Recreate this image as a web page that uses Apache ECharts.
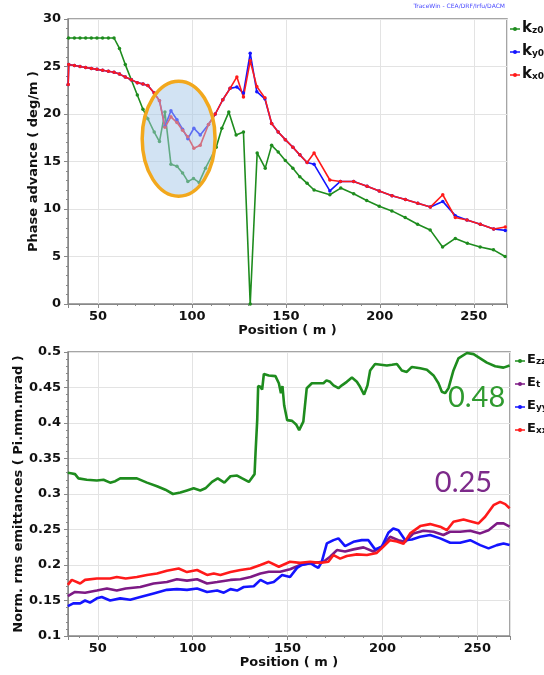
<!DOCTYPE html>
<html>
<head>
<meta charset="utf-8">
<script src="https://cdn.jsdelivr.net/npm/echarts@6/dist/echarts.min.js"></script>
<style>
  html, body { margin: 0; padding: 0; background: #fff; }
  #main { width: 544px; height: 675px; }
</style>
</head>
<body>
<div id="main"></div>
<script>
// ---- phase advance (top) ----
var kzPos = [34.3, 37.4, 40.4, 43.4, 46.4, 49.4, 52.4, 55.5, 58.5, 61.4, 64.5, 67.7, 70.9, 73.9, 76.5, 79.9, 82.7,
  85.6, 88.8, 92.0, 95.0, 97.8, 100.8, 103.8, 107.2, 112.9, 115.9, 119.6, 123.5, 127.4, 131.0, 134.7, 139.0,
  142.4, 145.9, 149.7, 153.7, 157.4, 161.3, 165.0, 173.4, 179.2, 186.1, 193.0, 199.7, 206.4, 213.5, 220.1,
  226.8, 233.4, 240.2, 246.6, 253.4, 260.5, 266.7];
var kzVal = [28.0, 28.0, 28.0, 28.0, 28.0, 28.0, 28.0, 28.0, 28.0, 26.9, 25.2, 23.6, 22.0, 20.5, 19.5, 18.1, 17.1,
  20.2, 14.7, 14.5, 13.8, 12.9, 13.2, 12.8, 14.3, 16.5, 18.5, 20.2, 17.8, 18.1, 0.0, 15.9, 14.3,
  16.7, 16.0, 15.1, 14.3, 13.4, 12.7, 12.0, 11.5, 12.2, 11.6, 10.9, 10.3, 9.8, 9.1, 8.4,
  7.8, 6.0, 6.9, 6.4, 6.0, 5.7, 5.0];

var kxyPos = [34.1, 34.4, 37.4, 40.4, 43.4, 46.4, 49.4, 52.4, 55.5, 58.5, 61.4, 64.5, 67.7, 70.9, 73.9, 76.5, 79.9,
  82.7, 85.6, 88.8, 92.0, 95.0, 97.8, 101.0, 104.4, 108.8, 112.4, 116.4, 120.3, 123.9, 127.4, 131.0, 134.5,
  138.8, 142.4, 145.9, 149.7, 153.7, 157.4, 161.3, 165.0, 173.4, 179.0, 186.1, 193.2, 199.7, 206.5, 213.6,
  220.2, 226.9, 233.5, 240.2, 246.4, 253.5, 260.6, 266.8];
var kyVal = [23.1, 25.2, 25.1, 25.0, 24.9, 24.8, 24.7, 24.6, 24.5, 24.4, 24.2, 23.9, 23.6, 23.3, 23.15, 23.0, 22.2,
  21.4, 18.7, 20.35, 19.4, 18.4, 17.4, 18.5, 17.8, 18.9, 20.0, 21.5, 22.7, 22.85, 22.2, 26.4, 22.35,
  21.6, 19.0, 18.1, 17.3, 16.5, 15.7, 14.9, 14.7, 11.9, 12.9, 12.9, 12.4, 11.9, 11.4, 11.0,
  10.6, 10.2, 10.8, 9.3, 8.85, 8.4, 7.9, 7.75];
var kxVal = [23.1, 25.2, 25.1, 25.0, 24.9, 24.8, 24.7, 24.6, 24.5, 24.4, 24.2, 23.9, 23.6, 23.3, 23.15, 23.0, 22.2,
  21.4, 18.6, 19.7, 19.1, 18.3, 17.6, 16.4, 16.7, 18.9, 20.0, 21.5, 22.7, 23.9, 21.8, 25.6, 22.9,
  21.7, 19.0, 18.1, 17.3, 16.5, 15.7, 14.9, 15.9, 13.05, 12.9, 12.9, 12.4, 11.9, 11.4, 11.0,
  10.6, 10.2, 11.5, 9.1, 8.85, 8.4, 7.9, 8.1];

// ---- emittances (bottom) ----
var ezPos = [34.2, 36.5, 38, 39.8, 44.2, 49.5, 53, 56.5, 59.2, 61.8, 70.6, 75.9, 81.2, 85.6, 89.6, 93.5, 97, 100.5,
  104, 106.7, 110.2, 113.2, 116.7, 119.9, 123.4, 126.1, 129.6, 132.6, 133.1, 134.0, 134.5, 135.7, 136.6, 137.5,
  140.1, 143.6, 145.4, 146.5, 147.3, 148.2, 149.8, 152.4, 154.5, 156.1, 158.3, 160.1, 162.8, 166.3, 168.9, 170.5,
  172.4, 174.2, 176.8, 178.6, 181.2, 183.9, 186.5, 188.2, 190.3, 192.1, 193.5, 196.1, 202.3, 205, 207.6, 210.2,
  212.8, 215.5, 219.9, 223.4, 226.9, 229.5, 231.3, 233, 234.8, 237.4, 240, 244.5, 248, 251.5, 255, 259.4, 263.8, 267];
var ezVal = [0.330, 0.329, 0.328, 0.322, 0.320, 0.319, 0.320, 0.316, 0.318, 0.322, 0.322, 0.316, 0.311, 0.306, 0.300,
  0.302, 0.305, 0.308, 0.305, 0.308, 0.317, 0.322, 0.316, 0.325, 0.326, 0.322, 0.317, 0.328, 0.357, 0.404, 0.452,
  0.451, 0.447, 0.469, 0.467, 0.466, 0.456, 0.442, 0.452, 0.425, 0.404, 0.403, 0.398, 0.390, 0.402, 0.449, 0.456,
  0.456, 0.456, 0.460, 0.458, 0.453, 0.449, 0.453, 0.458, 0.464, 0.458, 0.451, 0.440, 0.453, 0.474, 0.483, 0.481,
  0.482, 0.483, 0.474, 0.472, 0.479, 0.477, 0.475, 0.467, 0.456, 0.444, 0.442, 0.449, 0.474, 0.491, 0.4986, 0.497,
  0.491, 0.485, 0.480, 0.478, 0.481];

var etPos = [34.2, 38, 43.3, 49.5, 54.8, 60, 64.7, 72.4, 79.4, 86.4, 91.7, 97, 102.3, 107.6, 112.9, 119.9, 125.2,
  130.5, 135.7, 140.1, 146.1, 151.3, 156.6, 163.6, 168.9, 172.4, 176, 180.3, 184.7, 190, 195.2, 199.6, 204,
  208.4, 212, 216.3, 221.6, 226.9, 232.1, 235.6, 240.9, 246.2, 251.5, 255.9, 260.3, 263.8, 267];
var etVal = [0.156, 0.162, 0.161, 0.164, 0.167, 0.164, 0.167, 0.169, 0.174, 0.176, 0.180, 0.178, 0.180, 0.174, 0.176,
  0.179, 0.180, 0.183, 0.188, 0.1905, 0.1905, 0.194, 0.200, 0.203, 0.2045, 0.2116, 0.221, 0.219, 0.222, 0.2248,
  0.219, 0.2257, 0.2397, 0.235, 0.2327, 0.2445, 0.2482, 0.2468, 0.2422, 0.2468, 0.2468, 0.2482, 0.2445, 0.249,
  0.2586, 0.2586, 0.254];

var eyPos = [34.2, 37.1, 40.7, 43.3, 45.9, 49.5, 52.1, 56.5, 61.8, 67.1, 72.4, 79.4, 86.4, 91.7, 97, 102.3, 107.6,
  112.9, 116.4, 119.9, 123.4, 126.9, 132.2, 135.7, 139.3, 142.7, 147.1, 151.3, 155, 157.5, 161.9, 164.5, 166.2,
  168, 170.7, 174.2, 176.8, 180.3, 184.7, 189.1, 192.6, 196.1, 199.6, 203.1, 205.7, 208.4, 212, 215.5, 219.9,
  225.1, 230.4, 235.7, 240.9, 246.2, 251.5, 255.9, 260.3, 263.8, 267];
var eyVal = [0.142, 0.146, 0.146, 0.150, 0.147, 0.153, 0.155, 0.150, 0.153, 0.151, 0.155, 0.160, 0.165, 0.166, 0.165,
  0.167, 0.162, 0.164, 0.161, 0.166, 0.164, 0.169, 0.170, 0.179, 0.174, 0.176, 0.186, 0.183, 0.196, 0.200, 0.203,
  0.1985, 0.196, 0.2045, 0.2304, 0.235, 0.2375, 0.2267, 0.2327, 0.235, 0.235, 0.222, 0.2257, 0.2454, 0.2515,
  0.249, 0.235, 0.236, 0.2397, 0.2422, 0.2375, 0.2313, 0.2313, 0.235, 0.228, 0.2234, 0.228, 0.2304, 0.228];

var exPos = [34.2, 36.3, 40.7, 43.3, 49.5, 56.5, 60, 64.7, 70.6, 75.9, 81.2, 86.4, 92.6, 97, 102.3, 107.6, 111.1,
  114.6, 119.9, 125.2, 130.5, 135.7, 140.1, 145.4, 151.3, 156.6, 161.9, 167.1, 171.5, 174.2, 177.7, 181.2, 186.5,
  191.8, 197, 200.5, 204, 207.6, 211.1, 214.6, 219.9, 225.1, 230.4, 233.9, 237.4, 242.7, 247.1, 250.6, 254.1,
  258.5, 262, 264.7, 267];
var exVal = [0.172, 0.179, 0.174, 0.179, 0.181, 0.181, 0.183, 0.181, 0.183, 0.186, 0.188, 0.192, 0.195, 0.190, 0.193,
  0.186, 0.188, 0.186, 0.190, 0.193, 0.195, 0.200, 0.2045, 0.1975, 0.2045, 0.203, 0.2045, 0.203, 0.2045, 0.214,
  0.209, 0.2126, 0.215, 0.214, 0.217, 0.226, 0.235, 0.233, 0.230, 0.2445, 0.2548, 0.2576, 0.254, 0.249, 0.261,
  0.264, 0.261, 0.2586, 0.268, 0.2843, 0.289, 0.2857, 0.280];

// legend labels: main letter + subscript
var topNames = [['k', 'z0'], ['k', 'y0'], ['k', 'x0']];
var botNames = [['E', 'zz'], ['E', 't'], ['E', 'yy'], ['E', 'xx']];

// highlighted region (data units of the top grid)
var ringCenter = [92.9, 17.4];
var ringRadius = [19.4, 6.05];

function pairs(xs, ys) {
  return xs.map(function (x, i) { return [x, ys[i]]; });
}

var font = 'DejaVu Sans';
var green = '#1e8c1e', blue = '#1414ff', red = '#ff1a1a', purple = '#7d1a85';

function xAxisCfg(idx, min, max) {
  return {
    type: 'value', gridIndex: idx, min: min, max: max,
    name: 'Position ( m )', nameLocation: 'middle', nameGap: 20, nameMoveOverlap: false,
    nameTextStyle: { fontFamily: font, fontWeight: 'bold', fontSize: 13, color: '#111' },
    axisLine: { lineStyle: { color: '#888' } },
    axisTick: { length: 4, lineStyle: { color: '#888' } },
    minorTick: { show: true, splitNumber: 5, length: 2, lineStyle: { color: '#888' } },
    axisLabel: { fontFamily: font, fontWeight: 'bold', fontSize: 13, color: '#111', margin: 6,
      showMinLabel: false, showMaxLabel: false },
    splitLine: { show: true, lineStyle: { color: '#e3e3e3' } }
  };
}

function yAxisCfg(idx, min, max, step, name, gap) {
  return {
    type: 'value', gridIndex: idx, min: min, max: max, interval: step,
    name: name, nameLocation: 'middle', nameGap: gap, nameMoveOverlap: false,
    nameTextStyle: { fontFamily: font, fontWeight: 'bold', fontSize: 13, color: '#111' },
    axisLine: { show: true, lineStyle: { color: '#888' } },
    axisTick: { show: true, length: 4, lineStyle: { color: '#888' } },
    minorTick: { show: true, splitNumber: 5, length: 2, lineStyle: { color: '#888' } },
    axisLabel: { fontFamily: font, fontWeight: 'bold', fontSize: 13, color: '#111', margin: 7 },
    splitLine: { show: true, lineStyle: { color: '#e3e3e3' } }
  };
}

function lineSeries(name, xi, xs, ys, color, width, dots) {
  return {
    name: name, type: 'line', xAxisIndex: xi, yAxisIndex: xi, data: pairs(xs, ys),
    symbol: 'circle', symbolSize: 3.5, showSymbol: dots, color: color,
    lineStyle: { width: width }
  };
}

var chart = echarts.init(document.getElementById('main'));

var option = {
  animation: false,
  backgroundColor: '#fff',
  grid: [
    { left: 68, top: 19, right: 37, height: 285, show: true, borderColor: '#888', borderWidth: 1.5 },
    { left: 68, top: 352, right: 34, height: 284, show: true, borderColor: '#888', borderWidth: 1.5 }
  ],
  xAxis: [xAxisCfg(0, 34, 267.7), xAxisCfg(1, 34.3, 267.2)],
  yAxis: [
    yAxisCfg(0, 0, 30, 5, 'Phase advance ( deg/m )', 28),
    yAxisCfg(1, 0.1, 0.5, 0.05, 'Norm. rms emittances ( Pi.mm.mrad )', 43)
  ],
  series: [
    lineSeries('kz0', 0, kzPos, kzVal, green, 1.6, true),
    lineSeries('ky0', 0, kxyPos, kyVal, blue, 1.6, true),
    lineSeries('kx0', 0, kxyPos, kxVal, red, 1.6, true),
    lineSeries('Ezz', 1, ezPos, ezVal, green, 2.6, false),
    lineSeries('Et', 1, etPos, etVal, purple, 2.6, false),
    lineSeries('Eyy', 1, eyPos, eyVal, blue, 2.6, false),
    lineSeries('Exx', 1, exPos, exVal, red, 2.6, false)
  ]
};

chart.setOption(option);

// legend entries drawn as graphics so the subscripts are not truncated
function legendItems(names, colors, x, y0, step, big, small) {
  var out = [];
  names.forEach(function (n, i) {
    var y = y0 + i * step;
    out.push({ type: 'line', z: 110, shape: { x1: x, y1: y, x2: x + 10, y2: y },
      style: { stroke: colors[i], lineWidth: 1.5 } });
    out.push({ type: 'circle', z: 110, shape: { cx: x + 5, cy: y, r: 2 }, style: { fill: colors[i] } });
    out.push({ type: 'text', z: 110, x: x + 12, y: y + big * 0.42,
      style: {
        text: '{b|' + n[0] + '}{s|' + n[1] + '}', verticalAlign: 'bottom',
        rich: {
          b: { font: 'bold ' + big + 'px "DejaVu Sans"', fill: '#111', lineHeight: big },
          s: { font: 'bold ' + small + 'px "DejaVu Sans"', fill: '#111', lineHeight: small, verticalAlign: 'bottom' }
        }
      } });
  });
  return out;
}

var c = chart.convertToPixel({ gridIndex: 0 }, ringCenter);
var e = chart.convertToPixel({ gridIndex: 0 }, [ringCenter[0] + ringRadius[0], ringCenter[1] + ringRadius[1]]);
var lbl48 = chart.convertToPixel({ gridIndex: 1 }, [264.7, 0.436]);
var lbl25 = chart.convertToPixel({ gridIndex: 1 }, [257.8, 0.316]);

var graphics = [
  { type: 'ellipse', z: 100,
    shape: { cx: c[0], cy: c[1], rx: Math.abs(e[0] - c[0]), ry: Math.abs(c[1] - e[1]) },
    style: { fill: 'rgba(165, 200, 232, 0.5)', stroke: '#f2a81d', lineWidth: 3.5 } },
  { type: 'text', z: 100, x: 505, y: 3,
    style: { text: 'TraceWin - CEA/DRF/Irfu/DACM', fill: '#4a4aff', font: '6px "DejaVu Sans"', align: 'right' } },
  { type: 'text', z: 100, x: lbl48[0], y: lbl48[1],
    style: { text: '0.48', fill: '#2f9a2f', font: '29px Lato', align: 'right', verticalAlign: 'middle' } },
  { type: 'text', z: 100, x: lbl25[0], y: lbl25[1],
    style: { text: '0.25', fill: '#7d2a8a', font: '29px Lato', align: 'right', verticalAlign: 'middle' } }
];
graphics = graphics
  .concat(legendItems(topNames, [green, blue, red], 510, 29, 23, 15, 9))
  .concat(legendItems(botNames, [green, purple, blue, red], 515, 361, 23, 13, 9));

chart.setOption({ graphic: graphics });
</script>
</body>
</html>
